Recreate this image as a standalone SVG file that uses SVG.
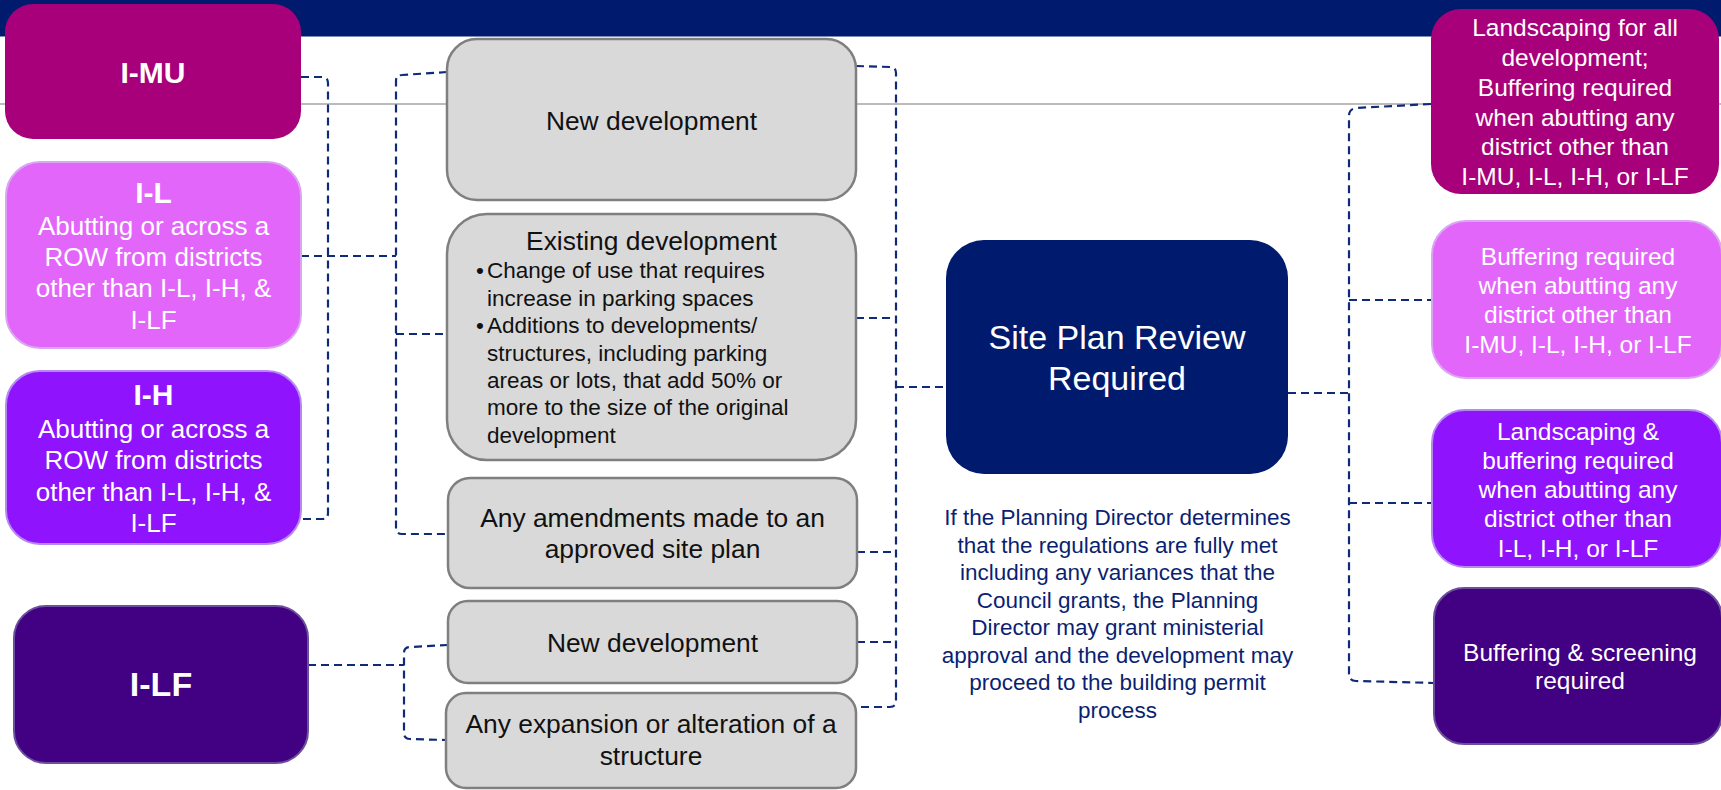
<svg xmlns="http://www.w3.org/2000/svg" width="1721" height="790" viewBox="0 0 1721 790">
<style>
text{font-family:"Liberation Sans",Arial,sans-serif;}
.w{fill:#ffffff;text-anchor:middle;}
.k{fill:#111111;text-anchor:middle;font-size:26.4px;}
.kb{fill:#111111;font-size:22.5px;}
.b{font-weight:bold;}
.gray{fill:#D9D9D9;stroke:#7F7F7F;stroke-width:2.5;}
.mu{fill:#A8007A;}
.il{fill:#E366FA;stroke:#D9A6F2;stroke-width:2;}
.ih{fill:#9013FE;stroke:#B58AF0;stroke-width:2;}
.lf{fill:#420082;stroke:#6B4F9C;stroke-width:2;}
.navy{fill:#001A6E;}
.c{fill:none;stroke:#0F2A78;stroke-width:2.2;stroke-dasharray:8 5;}
.note{fill:#0B1F72;text-anchor:middle;font-size:22.5px;}
.side{font-size:24.5px;}
.body{font-size:26px;}
</style>
<rect x="0" y="0" width="1721" height="36.5" fill="#001A6E"/>
<line x1="0" y1="104" x2="1721" y2="104" stroke="#A6A6A6" stroke-width="1.6"/>

<g id="connectors">
<path class="c" d="M301,77 L322,77 Q328,77 328,83 L328,513 Q328,519 322,519 L301,519"/>
<path class="c" d="M301,256 L396,256"/>
<path class="c" d="M447,72 L402,75 Q396,75 396,81 L396,528 Q396,534 402,534 L448,534"/>
<path class="c" d="M396,334 L447,334"/>
<path class="c" d="M856,66 L890,67 Q896,67 896,73 L896,701 Q896,707 890,707 L856,707"/>
<path class="c" d="M856,318 L896,318"/>
<path class="c" d="M857,552 L896,552"/>
<path class="c" d="M857,642 L896,642"/>
<path class="c" d="M896,387 L945,387"/>
<path class="c" d="M308,665 L404,665"/>
<path class="c" d="M448,645 L410,647 Q404,647 404,653 L404,733 Q404,739 410,739 L446,740"/>
<path class="c" d="M1288,393 L1349,393"/>
<path class="c" d="M1431,104 L1356,108 Q1349,109 1349,116 L1349,674 Q1349,681 1356,681 L1434,683"/>
<path class="c" d="M1349,300 L1432,300"/>
<path class="c" d="M1349,503 L1432,503"/>
</g>

<g id="imu">
<rect class="mu" x="5" y="4" width="296" height="135" rx="28"/>
<text class="w b" x="153" y="83" font-size="30">I-MU</text>
</g>
<g id="il">
<rect class="il" x="6" y="162" width="295" height="186" rx="34"/>
<text class="w b" x="153.5" y="203" font-size="30">I-L</text>
<text class="w body" x="153.5" y="235">Abutting or across a</text>
<text class="w body" x="153.5" y="266">ROW from districts</text>
<text class="w body" x="153.5" y="297">other than I-L, I-H, &amp;</text>
<text class="w body" x="153.5" y="329">I-LF</text>
</g>
<g id="ih">
<rect class="ih" x="6" y="371" width="295" height="173" rx="34"/>
<text class="w b" x="153.5" y="405" font-size="30">I-H</text>
<text class="w body" x="153.5" y="438">Abutting or across a</text>
<text class="w body" x="153.5" y="469">ROW from districts</text>
<text class="w body" x="153.5" y="501">other than I-L, I-H, &amp;</text>
<text class="w body" x="153.5" y="532">I-LF</text>
</g>
<g id="ilf">
<rect class="lf" x="14" y="606" width="294" height="157" rx="32"/>
<text class="w b" x="161" y="696" font-size="34">I-LF</text>
</g>

<g id="new-dev-1">
<rect class="gray" x="447" y="39" width="409" height="161" rx="30"/>
<text class="k" x="651.5" y="130">New development</text>
</g>
<g id="existing-dev">
<rect class="gray" x="447" y="214" width="409" height="246" rx="40"/>
<text class="k" x="651.5" y="250">Existing development</text>
<text class="kb" x="476" y="278">•</text>
<text class="kb" x="487" y="278">Change of use that requires</text>
<text class="kb" x="487" y="306">increase in parking spaces</text>
<text class="kb" x="476" y="333">•</text>
<text class="kb" x="487" y="333">Additions to developments/</text>
<text class="kb" x="487" y="361">structures, including parking</text>
<text class="kb" x="487" y="388">areas or lots, that add 50% or</text>
<text class="kb" x="487" y="415">more to the size of the original</text>
<text class="kb" x="487" y="443">development</text>
</g>
<g id="amendments">
<rect class="gray" x="448" y="478" width="409" height="110" rx="22"/>
<text class="k" x="652.5" y="527">Any amendments made to an</text>
<text class="k" x="652.5" y="558">approved site plan</text>
</g>
<g id="new-dev-2">
<rect class="gray" x="448" y="601" width="409" height="82" rx="20"/>
<text class="k" x="652.5" y="652">New development</text>
</g>
<g id="expansion">
<rect class="gray" x="446" y="693" width="410" height="95" rx="20"/>
<text class="k" x="651" y="733">Any expansion or alteration of a</text>
<text class="k" x="651" y="765">structure</text>
</g>

<g id="site-plan">
<rect class="navy" x="946" y="240" width="342" height="234" rx="38"/>
<text class="w" x="1117" y="349" font-size="34">Site Plan Review</text>
<text class="w" x="1117" y="389.5" font-size="34">Required</text>
</g>
<g id="note">
<text class="note" x="1117.5" y="525">If the Planning Director determines</text>
<text class="note" x="1117.5" y="552.5">that the regulations are fully met</text>
<text class="note" x="1117.5" y="580">including any variances that the</text>
<text class="note" x="1117.5" y="607.5">Council grants, the Planning</text>
<text class="note" x="1117.5" y="635">Director may grant ministerial</text>
<text class="note" x="1117.5" y="662.5">approval and the development may</text>
<text class="note" x="1117.5" y="690">proceed to the building permit</text>
<text class="note" x="1117.5" y="717.5">process</text>
</g>

<g id="r-mu">
<rect class="mu" x="1431" y="9" width="288" height="185" rx="30"/>
<text class="w side" x="1575" y="36">Landscaping for all</text>
<text class="w side" x="1575" y="66">development;</text>
<text class="w side" x="1575" y="96">Buffering required</text>
<text class="w side" x="1575" y="126">when abutting any</text>
<text class="w side" x="1575" y="155">district other than</text>
<text class="w side" x="1575" y="185">I-MU, I-L, I-H, or I-LF</text>
</g>
<g id="r-l">
<rect class="il" x="1432" y="221" width="290" height="157" rx="34"/>
<text class="w side" x="1578" y="265">Buffering required</text>
<text class="w side" x="1578" y="294">when abutting any</text>
<text class="w side" x="1578" y="323">district other than</text>
<text class="w side" x="1578" y="353">I-MU, I-L, I-H, or I-LF</text>
</g>
<g id="r-h">
<rect class="ih" x="1432" y="410" width="290" height="157" rx="33"/>
<text class="w side" x="1578" y="440">Landscaping &amp;</text>
<text class="w side" x="1578" y="469">buffering required</text>
<text class="w side" x="1578" y="498">when abutting any</text>
<text class="w side" x="1578" y="527">district other than</text>
<text class="w side" x="1578" y="557">I-L, I-H, or I-LF</text>
</g>
<g id="r-lf">
<rect class="lf" x="1434" y="588" width="288" height="156" rx="30"/>
<text class="w side" x="1580" y="661">Buffering &amp; screening</text>
<text class="w side" x="1580" y="689">required</text>
</g>
</svg>
